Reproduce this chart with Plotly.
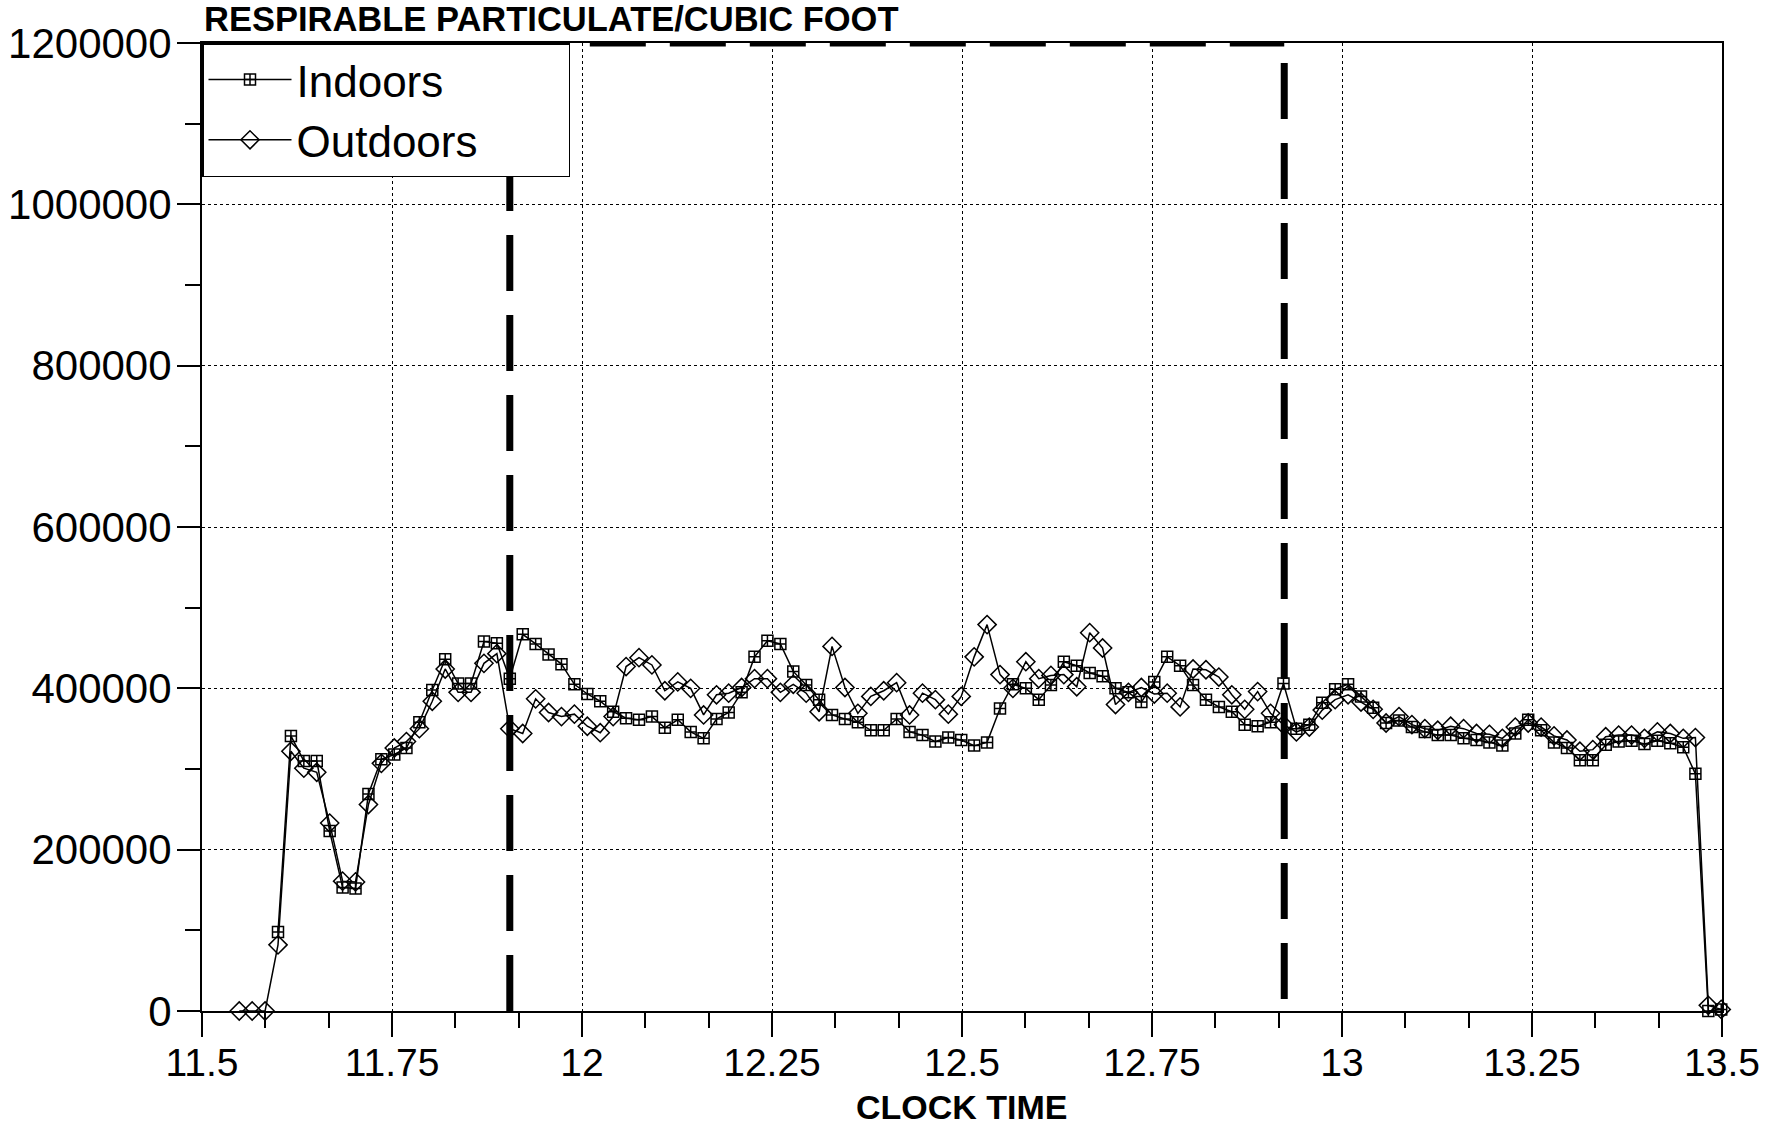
import plotly.graph_objects as go

# Clock time (decimal hours) of each sample
times = [11.549, 11.566, 11.583, 11.600, 11.617, 11.634, 11.651, 11.668, 11.685, 11.702,
         11.719, 11.736, 11.753, 11.769, 11.786, 11.803, 11.820, 11.837, 11.854, 11.871,
         11.888, 11.905, 11.922, 11.939, 11.956, 11.973, 11.990, 12.007, 12.024, 12.041,
         12.058, 12.075, 12.092, 12.109, 12.126, 12.143, 12.160, 12.177, 12.193, 12.210,
         12.227, 12.244, 12.261, 12.278, 12.295, 12.312, 12.329, 12.346, 12.363, 12.380,
         12.397, 12.414, 12.431, 12.448, 12.465, 12.482, 12.499, 12.516, 12.533, 12.550,
         12.567, 12.584, 12.601, 12.617, 12.634, 12.651, 12.668, 12.685, 12.702, 12.719,
         12.736, 12.753, 12.770, 12.787, 12.804, 12.821, 12.838, 12.855, 12.872, 12.889,
         12.906, 12.923, 12.940, 12.957, 12.974, 12.991, 13.008, 13.025, 13.041, 13.058,
         13.075, 13.092, 13.109, 13.126, 13.143, 13.160, 13.177, 13.194, 13.211, 13.228,
         13.245, 13.262, 13.279, 13.296, 13.313, 13.330, 13.347, 13.364, 13.381, 13.398,
         13.415, 13.432, 13.449, 13.465, 13.482, 13.499]

outdoors = [0, 0, 0, 82000, 322000, 301000, 296000, 233000, 161000, 160000,
            256000, 307000, 326000, 334000, 350000, 384000, 424000, 395000, 395000, 431000,
            443000, 350000, 344000, 387000, 370000, 365000, 368000, 353000, 345000, 365000,
            427000, 438000, 429000, 397000, 408000, 400000, 367000, 392000, 394000, 401000,
            412000, 412000, 395000, 405000, 394000, 371000, 452000, 401000, 369000, 390000,
            397000, 407000, 367000, 394000, 386000, 368000, 390000, 439000, 479000, 417000,
            400000, 433000, 412000, 416000, 417000, 402000, 469000, 450000, 380000, 395000,
            401000, 393000, 394000, 377000, 424000, 423000, 414000, 392000, 374000, 396000,
            369000, 355000, 346000, 352000, 373000, 386000, 392000, 383000, 374000, 357000,
            365000, 355000, 350000, 348000, 353000, 350000, 344000, 343000, 338000, 352000,
            357000, 352000, 341000, 336000, 322000, 324000, 340000, 342000, 342000, 338000,
            346000, 344000, 338000, 339000, 7000, 2000]

# Indoor readings start with the 4th sample
indoors = [98000, 341000, 310000, 310000, 223000, 153000, 152000,
           269000, 312000, 318000, 326000, 358000, 398000, 436000, 406000, 406000, 458000,
           456000, 412000, 467000, 455000, 442000, 430000, 405000, 393000, 384000, 371000,
           363000, 361000, 365000, 351000, 361000, 346000, 338000, 362000, 370000, 395000,
           439000, 459000, 455000, 421000, 404000, 386000, 367000, 362000, 358000, 348000,
           348000, 362000, 346000, 342000, 334000, 339000, 336000, 329000, 333000, 375000,
           405000, 400000, 386000, 404000, 433000, 428000, 419000, 415000, 400000, 395000,
           383000, 408000, 439000, 428000, 404000, 386000, 377000, 371000, 355000, 353000,
           358000, 406000, 350000, 355000, 382000, 399000, 405000, 390000, 376000, 357000,
           360000, 352000, 346000, 342000, 342000, 338000, 336000, 333000, 329000, 344000,
           361000, 348000, 333000, 326000, 311000, 311000, 330000, 334000, 335000, 331000,
           335000, 332000, 327000, 294000, 0, 2000]
indoor_times = times[3:]

# Dashed period box
period_start = 11.905
period_end = 12.924
period_top = 1200000
period_right_bottom = 15000

FONT = "Liberation Sans, Arial, Helvetica, sans-serif"
NBSP = "\u00a0"

fig = go.Figure()
fig.add_trace(go.Scatter(
    x=indoor_times, y=indoors, name="Indoors", mode="lines+markers",
    line=dict(color="black", width=1.5),
    marker=dict(symbol="square-cross-open", size=11, color="black", line=dict(width=1.5)),
    cliponaxis=False))
fig.add_trace(go.Scatter(
    x=times, y=outdoors, name="Outdoors" + NBSP * 7, mode="lines+markers",
    line=dict(color="black", width=1.5),
    marker=dict(symbol="diamond-open", size=14, color="black", line=dict(width=1.5)),
    cliponaxis=False))

dash = "56px,24px"
fig.add_shape(type="line", x0=period_start, x1=period_start, y0=0, y1=period_top,
              xref="x", yref="y", line=dict(color="black", width=7, dash=dash))
fig.add_shape(type="line", x0=period_end, x1=period_end, y0=period_right_bottom, y1=period_top,
              xref="x", yref="y", line=dict(color="black", width=7, dash=dash))
fig.add_shape(type="line", x0=period_start, x1=period_end, y0=period_top, y1=period_top,
              xref="x", yref="y", line=dict(color="black", width=7, dash=dash))

fig.update_xaxes(
    range=[11.5, 13.5], dtick=0.25, tick0=11.5, automargin=False,
    showgrid=True, gridcolor="black", gridwidth=1, griddash="dot",
    showline=True, linecolor="black", linewidth=2, mirror=True, zeroline=False,
    ticks="outside", ticklen=24, tickwidth=2, tickcolor="black", ticklabelstandoff=-8,
    minor=dict(dtick=1/12, tick0=11.5, ticks="outside", ticklen=15, tickwidth=2,
               tickcolor="black", showgrid=False),
    tickfont=dict(family=FONT, size=39, color="black"),
)
fig.update_yaxes(
    range=[0, 1200000], dtick=200000, tick0=0, tickformat="d", automargin=False,
    showgrid=True, gridcolor="black", gridwidth=1, griddash="dot",
    showline=True, linecolor="black", linewidth=2, mirror=True, zeroline=False,
    ticks="outside", ticklen=23, tickwidth=2, tickcolor="black", ticklabelstandoff=-3,
    minor=dict(dtick=100000, tick0=0, ticks="outside", ticklen=15, tickwidth=2,
               tickcolor="black", showgrid=False),
    tickfont=dict(family=FONT, size=42, color="black"),
)

fig.add_annotation(text="<b>RESPIRABLE PARTICULATE/CUBIC FOOT</b>", xref="paper", yref="paper",
                   x=0, y=1, xanchor="left", yanchor="middle", yshift=24, showarrow=False,
                   font=dict(family=FONT, size=34.5, color="black"))
fig.add_annotation(text="<b>CLOCK TIME</b>", xref="paper", yref="paper",
                   x=0.5, y=0, xanchor="center", yanchor="middle", yshift=-96, showarrow=False,
                   font=dict(family=FONT, size=34, color="black"))

fig.update_layout(
    width=1779, height=1126,
    margin=dict(l=202, r=57, t=43, b=115, autoexpand=False),
    paper_bgcolor="white", plot_bgcolor="white",
    showlegend=True,
    legend=dict(x=0, y=1, xanchor="left", yanchor="top",
                bgcolor="white", bordercolor="black", borderwidth=1.5,
                font=dict(family=FONT, size=44, color="black"),
                tracegroupgap=0, itemsizing="trace", itemwidth=83),
)

fig.write_html("out.html", config={"displayModeBar": False},
               post_script="document.body.style.margin='0';")
